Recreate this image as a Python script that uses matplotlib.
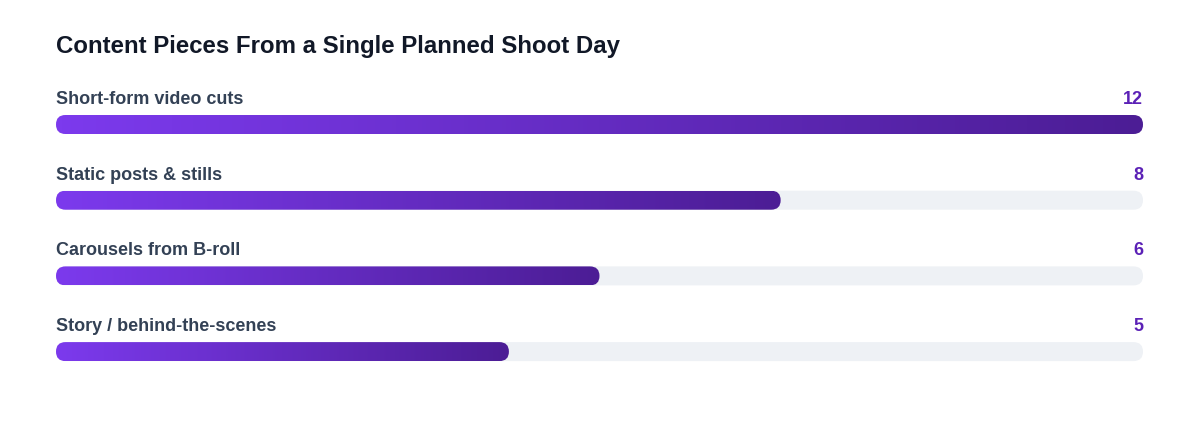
import numpy as np
import matplotlib
matplotlib.use("Agg")
import matplotlib.pyplot as plt
from matplotlib.patches import FancyBboxPatch
from matplotlib.colors import LinearSegmentedColormap

# chart data
title = "Content Pieces From a Single Planned Shoot Day"
categories = ["Short-form video cuts", "Static posts & stills",
              "Carousels from B-roll", "Story / behind-the-scenes"]
values = [12, 8, 6, 5]
vmax = 12

plt.rcParams['font.family'] = ['Liberation Sans', 'DejaVu Sans']

W, H = 1200, 432
fig = plt.figure(figsize=(W / 100, H / 100), dpi=100)
x0, x1 = 56, 1143
ax = fig.add_axes([x0 / W, 0, (x1 - x0) / W, 1])
ax.set_xlim(0, vmax)
ax.set_ylim(H, 0)
ax.axis('off')

px_per_x = (x1 - x0) / vmax
bar_h = 19
radius = bar_h / 2
cmap = LinearSegmentedColormap.from_list('violet', ['#7c3aed', '#4c1d95'])
grad = np.linspace(0, 1, 256).reshape(1, -1)

ax.text(0, 46.5, title, fontsize=17.3, fontweight='bold', color='#111827',
        ha='left', va='center')

top0, step = 115, 75.7
for i, (cat, v) in enumerate(zip(categories, values)):
    top = top0 + i * step
    style = f"round,pad=0,rounding_size={radius / px_per_x}"
    track = FancyBboxPatch((0, top), vmax, bar_h, boxstyle=style,
                           mutation_aspect=px_per_x, fc='#eef1f5', ec='none',
                           zorder=1)
    ax.add_patch(track)
    bar = FancyBboxPatch((0, top), v, bar_h, boxstyle=style,
                         mutation_aspect=px_per_x, fc='none', ec='none')
    ax.add_patch(bar)
    im = ax.imshow(grad, cmap=cmap, extent=(0, v, top + bar_h, top),
                   aspect='auto', interpolation='bilinear', zorder=2)
    im.set_clip_path(bar)
    ax.text(0, top - 15.5, cat, fontsize=13, fontweight='bold', color='#334155',
            ha='left', va='center')
    ax.text(vmax, top - 15.5, str(v), fontsize=13, fontweight='bold',
            color='#5b21b6', ha='right', va='center')

ax.set_xlim(0, vmax)
ax.set_ylim(H, 0)
fig.savefig('out.png', dpi=100, facecolor='white')
